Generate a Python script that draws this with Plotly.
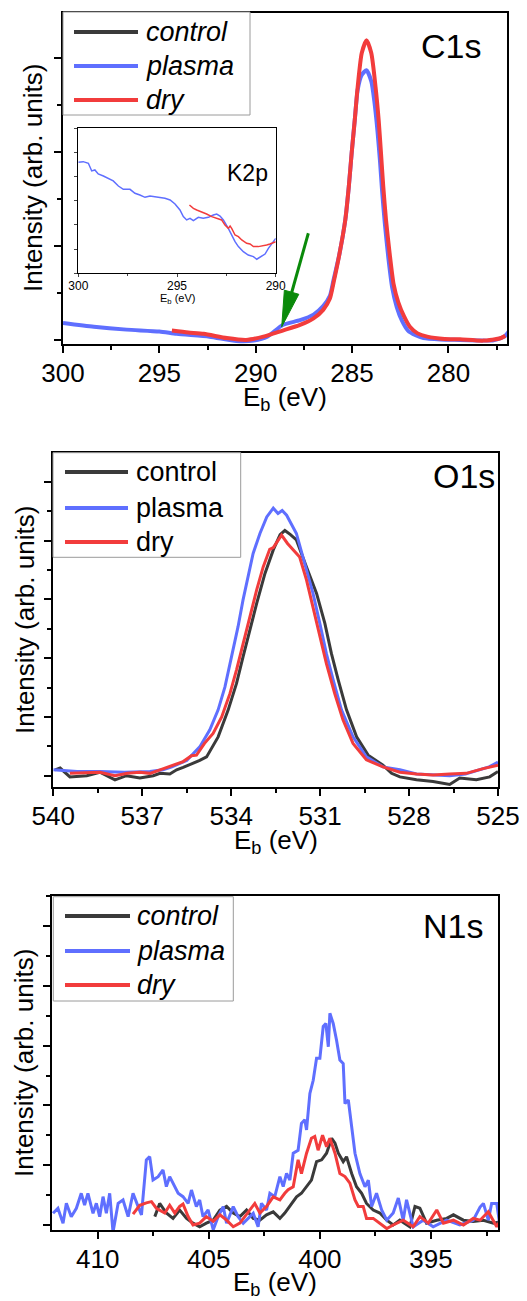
import plotly.graph_objects as go

PAGE_OFF = 8  # default body margin of the page
W, H = 527 - PAGE_OFF, 1301 - PAGE_OFF
FONT = "Liberation Sans, Arial, Helvetica, sans-serif"
C_CTRL = "#3a3a3a"
C_PLASMA = "#5f6fff"
C_DRY = "#f23c3c"

# ---------------- C1s (main) ----------------
c1s_plasma_e = [300.0, 298.4, 296.7, 295.0, 294.1, 292.4, 291.0, 290.1, 289.4, 288.6, 287.7, 287.0, 286.5, 286.15,
                285.97, 285.65, 285.35, 285.17, 285.02, 284.86, 284.71, 284.5, 284.25, 284.0, 283.85, 283.68, 283.55,
                283.44, 283.3, 283.12, 282.92, 282.68, 282.4, 282.1, 281.7, 281.3, 280.4, 279.4, 278.5, 277.7, 277.1, 276.8]
c1s_plasma_i = [0.18, 0.14, 0.11, 0.09, 0.065, 0.035, -0.01, -0.005, 0.035, 0.16, 0.21, 0.27, 0.36, 0.47,
                0.63, 0.92, 1.28, 1.63, 1.99, 2.34, 2.66, 2.82, 2.87, 2.75, 2.55, 2.22, 1.9,
                1.58, 1.24, 0.88, 0.56, 0.35, 0.2, 0.1, 0.05, 0.02, 0.005, 0.0, -0.005, -0.005, 0.035, 0.11]
c1s_dry_e = [294.35, 293.5, 292.7, 291.5, 290.5, 289.6, 288.6, 287.7, 287.0, 286.5, 286.15, 285.95, 285.65, 285.35,
             285.17, 285.02, 284.86, 284.71, 284.5, 284.25, 284.0, 283.78, 283.62, 283.5, 283.38, 283.24, 283.05,
             282.85, 282.6, 282.3, 282.0, 281.6, 281.1, 280.2, 279.4, 278.2, 277.3, 277.05]
c1s_dry_i = [0.10, 0.08, 0.065, 0.02, 0.0, 0.035, 0.10, 0.16, 0.23, 0.32, 0.44, 0.62, 0.92, 1.28,
             1.63, 1.99, 2.34, 2.69, 3.05, 3.19, 3.05, 2.69, 2.34, 1.99, 1.63, 1.28, 0.92,
             0.6, 0.4, 0.25, 0.14, 0.07, 0.035, 0.01, 0.007, -0.007, 0.018, 0.045]

# ---------------- K2p (inset) ----------------
k2p_plasma_e = [300.0, 299.75, 299.49, 299.32, 299.16, 298.99, 298.73, 298.48, 298.23, 297.97, 297.72, 297.38, 297.13,
                296.88, 296.62, 296.37, 296.11, 295.86, 295.61, 295.35, 295.1, 294.85, 294.68, 294.51, 294.34, 294.17,
                293.92, 293.67, 293.41, 293.16, 292.99, 292.82, 292.65, 292.4, 292.23, 292.06, 291.89, 291.64, 291.39,
                291.13, 290.96, 290.71, 290.54, 290.37, 290.2, 290.0]
k2p_plasma_i = [7.66, 7.70, 7.59, 7.06, 7.13, 6.85, 6.71, 6.55, 6.37, 6.02, 5.79, 5.79, 5.52,
                5.40, 5.24, 5.33, 5.29, 5.24, 5.17, 5.06, 4.78, 4.37, 3.91, 3.68, 3.79, 3.63,
                3.86, 3.79, 3.86, 4.02, 4.09, 3.95, 3.68, 3.10, 2.64, 2.18, 1.84, 1.49, 1.26,
                1.15, 0.97, 1.15, 1.33, 1.72, 2.07, 2.41]
k2p_dry_e = [294.37, 294.17, 294.0, 293.75, 293.5, 293.24, 292.99, 292.74, 292.57, 292.4, 292.31, 292.23, 292.06,
             291.89, 291.72, 291.47, 291.3, 291.13, 290.88, 290.62, 290.46, 290.29, 290.0]
k2p_dry_i = [4.71, 4.48, 4.37, 4.25, 4.09, 3.91, 3.79, 3.68, 3.33, 3.10, 3.26, 3.10, 2.64,
             2.53, 2.30, 2.07, 2.02, 1.84, 1.84, 1.89, 1.95, 2.02, 2.18]

# ---------------- O1s ----------------
o1s_ctrl_e = [539.94, 539.77, 539.44, 538.87, 538.43, 537.92, 537.53, 537.08, 536.63, 536.4, 536.07, 535.84, 535.62,
              535.28, 535.06, 534.83, 534.44, 534.1, 533.82, 533.6, 533.37, 533.14, 532.86, 532.58, 532.35, 532.19,
              532.0, 531.8, 531.46, 531.12, 530.84, 530.62, 530.39, 530.11, 529.77, 529.38, 528.88, 528.59, 528.31,
              527.75, 527.19, 526.63, 526.29, 525.73, 525.28, 525.0]
o1s_ctrl_i = [0.1, 0.13, -0.02, 0.0, 0.06, -0.07, 0.0, -0.04, 0.0, 0.04, 0.03, 0.1, 0.14,
              0.21, 0.26, 0.32, 0.66, 1.12, 1.57, 2.02, 2.48, 2.93, 3.44, 3.84, 4.1, 4.17,
              4.1, 4.01, 3.55, 3.1, 2.59, 2.08, 1.63, 1.12, 0.66, 0.35, 0.18, 0.04, -0.02,
              -0.07, -0.1, -0.15, -0.04, -0.07, -0.02, 0.07]
o1s_plasma_e = [540.0, 539.2, 538.43, 537.6, 536.74, 536.3, 536.0, 535.5, 535.06, 534.72, 534.44, 534.21, 533.99,
                533.77, 533.6, 533.43, 533.26, 533.03, 532.8, 532.58, 532.42, 532.28, 532.13, 531.8, 531.52, 531.24,
                531.01, 530.79, 530.56, 530.28, 529.89, 529.44, 528.88, 528.31, 527.75, 527.2, 526.63, 526.1, 525.73,
                525.3, 525.0]
o1s_plasma_i = [0.1, 0.07, 0.07, 0.06, 0.07, 0.1, 0.15, 0.26, 0.49, 0.78, 1.12, 1.51, 2.02,
                2.53, 2.99, 3.38, 3.78, 4.12, 4.4, 4.55, 4.46, 4.51, 4.43, 4.12, 3.61, 3.1,
                2.59, 2.08, 1.63, 1.12, 0.66, 0.32, 0.15, 0.1, 0.03, 0.02, 0.0, 0.03, 0.08,
                0.15, 0.23]
o1s_dry_e = [539.44, 539.0, 538.43, 537.92, 537.5, 537.08, 536.74, 536.4, 536.18, 535.9, 535.62, 535.34, 535.17,
             534.9, 534.61, 534.32, 534.04, 533.82, 533.6, 533.37, 533.14, 532.92, 532.7, 532.58, 532.45, 532.3,
             532.1, 531.9, 531.69, 531.46, 531.24, 531.01, 530.79, 530.51, 530.23, 529.89, 529.44, 528.88, 528.31,
             527.75, 527.19, 526.63, 526.07, 525.5, 525.0]
o1s_dry_i = [0.04, 0.05, 0.06, 0.0, 0.04, 0.06, 0.04, 0.1, 0.14, 0.2, 0.24, 0.34, 0.35,
             0.55, 0.72, 1.0, 1.4, 1.8, 2.25, 2.7, 3.16, 3.55, 3.85, 3.88, 3.98, 4.09,
             3.95, 3.84, 3.72, 3.33, 2.87, 2.42, 1.91, 1.40, 0.95, 0.55, 0.27, 0.15, 0.06,
             0.03, 0.01, 0.03, 0.04, 0.12, 0.18]

# ---------------- N1s ----------------
n1s_ctrl_e = [407.43, 407.21, 406.91, 406.61, 406.31, 406.0, 405.71, 405.41, 405.11, 404.8, 404.5, 404.2, 403.9,
              403.6, 403.3, 403.0, 402.7, 402.4, 402.1, 401.8, 401.58, 401.35, 401.05, 400.83, 400.6, 400.38,
              400.15, 399.92, 399.7, 399.47, 399.32, 399.17, 398.95, 398.8, 398.57, 398.35, 398.12, 397.9, 397.6,
              397.3, 396.99, 396.7, 396.4, 395.95, 395.72, 395.5, 395.2, 394.74, 394.29, 393.99, 393.54, 393.1,
              392.64, 392.19, 391.9]
n1s_ctrl_i = [0.14, 0.36, 0.2, 0.11, 0.25, 0.11, 0.03, -0.03, 0.03, 0.08, 0.25, 0.31, 0.2,
              0.14, 0.25, 0.11, 0.08, 0.17, 0.22, 0.11, 0.2, 0.31, 0.47, 0.53, 0.64, 0.75,
              1.06, 1.09, 1.2, 1.45, 1.37, 1.2, 1.06, 1.14, 0.86, 0.64, 0.53, 0.36, 0.25,
              0.2, 0.08, 0.0, 0.08, -0.03, 0.31, 0.28, 0.03, 0.08, 0.11, 0.17, 0.08, 0.06,
              0.08, 0.03, 0.05]
n1s_plasma_e = [412.01, 411.79, 411.56, 411.41, 411.19, 410.96, 410.74, 410.59, 410.44, 410.21, 410.06, 409.91,
                409.76, 409.61, 409.46, 409.31, 409.08, 408.86, 408.63, 408.41, 408.18, 408.03, 407.81, 407.66,
                407.51, 407.28, 407.06, 406.91, 406.76, 406.61, 406.38, 406.16, 405.93, 405.78, 405.56, 405.41,
                405.26, 405.03, 404.80, 404.58, 404.35, 404.20, 403.90, 403.68, 403.45, 403.00, 402.78, 402.63,
                402.40, 402.25, 402.03, 401.80, 401.65, 401.5, 401.35, 401.2, 400.98, 400.83, 400.68, 400.6,
                400.45, 400.3, 400.15, 400.0, 399.85, 399.73, 399.62, 399.55, 399.4, 399.25, 399.1, 398.95,
                398.87, 398.72, 398.57, 398.42, 398.2, 397.97, 397.82, 397.67, 397.45, 397.22, 396.99, 396.7,
                396.47, 396.25, 396.1, 395.8, 395.35, 394.9, 394.3, 393.7, 393.1, 392.79, 392.64, 392.42,
                392.27, 392.04, 391.9]
n1s_plasma_i = [0.195, 0.279, 0.028, 0.362, 0.139, 0.279, 0.530, 0.334, 0.530, 0.195, 0.362, 0.139,
                0.474, 0.195, 0.530, -0.12, 0.362, 0.418, 0.139, 0.530, 0.307, 0.167, 1.087, 1.143,
                0.753, 0.808, 0.920, 0.641, 0.808, 0.697, 0.530, 0.474, 0.362, 0.585, 0.307, 0.418,
                0.139, 0.251, -0.08, 0.139, 0.307, 0.028, 0.307, 0.139, 0.028, 0.195, -0.03, 0.362,
                0.251, 0.530, 0.474, 0.808, 0.641, 0.864, 0.75, 1.2, 1.25, 1.70, 1.76, 1.59,
                2.2, 2.42, 2.79, 2.79, 3.32, 3.37, 2.98, 3.54, 3.37, 3.09, 2.76, 2.70,
                2.03, 2.09, 1.64, 1.20, 0.86, 0.64, 0.75, 0.31, 0.53, 0.25, 0.08, 0.2,
                0.45, 0.08, 0.42, -0.03, 0.08, -0.03, 0.08, 0.0, 0.08, 0.30, 0.36, 0.08,
                0.36, 0.36, 0.0]
n1s_dry_e = [408.41, 408.11, 407.81, 407.58, 407.36, 406.98, 406.76, 406.53, 406.31, 406.16, 405.93, 405.71,
             405.41, 405.11, 404.8, 404.5, 404.2, 403.9, 403.6, 403.23, 402.93, 402.7, 402.4, 402.1, 401.8,
             401.58, 401.43, 401.2, 400.98, 400.83, 400.6, 400.38, 400.23, 400.08, 399.88, 399.7, 399.55,
             399.32, 399.1, 398.87, 398.65, 398.42, 398.27, 398.05, 397.9, 397.6, 397.3, 396.99, 396.7,
             396.25, 395.8, 395.5, 395.12, 394.74, 394.44, 393.99, 393.54, 393.1, 392.79, 392.42, 392.04, 391.9]
n1s_dry_i = [0.18, 0.33, 0.37, 0.39, 0.28, 0.2, 0.33, 0.2, 0.31, 0.35, 0.14, 0.0,
             0.03, 0.14, 0.06, 0.17, 0.08, -0.03, 0.03, 0.22, 0.36, 0.2, 0.31, 0.47, 0.42,
             0.53, 0.59, 0.64, 1.09, 0.86, 1.2, 1.45, 1.48, 1.25, 1.5, 1.31, 1.45,
             1.2, 0.86, 0.81, 0.70, 0.42, 0.31, 0.31, 0.11, 0.11, 0.03, -0.06, 0.0,
             0.08, -0.03, 0.14, 0.03, 0.25, 0.03, 0.08, 0.0, 0.11, 0.08, 0.22, -0.03, 0.06]

series_names = ["control", "plasma", "dry"]
series_colors = [C_CTRL, C_PLASMA, C_DRY]

# x tick values per panel
c1s_ticks = [300, 295, 290, 285, 280]
o1s_ticks = [540, 537, 534, 531, 528, 525]
n1s_ticks = [410, 405, 400, 395]
k2p_ticks = [300, 295, 290]


def fx(x):
    return (x - PAGE_OFF) / W


def fy(y):
    return 1 - (y - PAGE_OFF) / H


fig = go.Figure()


def add(xs, ys, ax, color, width, spline=False):
    line = dict(color=color, width=width)
    if spline:
        line.update(shape="spline", smoothing=0.6)
    fig.add_trace(go.Scatter(x=xs, y=ys, mode="lines", line=line, xaxis="x" + ax, yaxis="y" + ax,
                             showlegend=False, hoverinfo="skip"))


add(c1s_plasma_e, c1s_plasma_i, "", C_PLASMA, 4, True)
add(c1s_dry_e, c1s_dry_i, "", C_DRY, 4, True)
add(o1s_ctrl_e, o1s_ctrl_i, "2", C_CTRL, 3)
add(o1s_plasma_e, o1s_plasma_i, "2", C_PLASMA, 3)
add(o1s_dry_e, o1s_dry_i, "2", C_DRY, 3)
add(n1s_ctrl_e, n1s_ctrl_i, "3", C_CTRL, 3)
add(n1s_plasma_e, n1s_plasma_i, "3", C_PLASMA, 3)
add(n1s_dry_e, n1s_dry_i, "3", C_DRY, 3)
add(k2p_plasma_e, k2p_plasma_i, "4", C_PLASMA, 1.5)
add(k2p_dry_e, k2p_dry_i, "4", C_DRY, 1.5)

axis_base = dict(showline=True, linecolor="black", linewidth=2, mirror=True, ticks="outside",
                 ticklen=7, tickwidth=1.5, tickcolor="black", showgrid=False, zeroline=False,
                 automargin=False, tickfont=dict(family=FONT, size=26, color="black"))


def xax(dom, rng, tickvals, minor_dtick, anchor):
    d = dict(axis_base)
    d.update(domain=[fx(dom[0]), fx(dom[1])], range=rng, tickmode="array", tickvals=tickvals,
             ticktext=[str(t) for t in tickvals], anchor=anchor, ticklabelstandoff=-2,
             minor=dict(ticks="outside", ticklen=4, tickwidth=1.5, tickcolor="black", dtick=minor_dtick,
                        tick0=tickvals[0]))
    return d


def yax(dom, rng, anchor):
    d = dict(axis_base)
    d.update(domain=[fy(dom[1]), fy(dom[0])], range=rng, showticklabels=False, tick0=0, dtick=1,
             anchor=anchor,
             minor=dict(ticks="outside", ticklen=4, tickwidth=1.5, tickcolor="black", dtick=0.5))
    return d


fig.update_layout(
    template="none",
    width=W, height=H, margin=dict(l=0, r=0, t=0, b=0, pad=0, autoexpand=False),
    paper_bgcolor="white", plot_bgcolor="white", showlegend=False,
    font=dict(family=FONT, color="black"),
    xaxis=xax((63, 507), [300, 276.96], c1s_ticks, 2.5, "y"),
    yaxis=yax((12.7, 344), [-0.043, 3.482], "x"),
    xaxis2=xax((53.3, 498), [540, 525], o1s_ticks, 1.5, "y2"),
    yaxis2=yax((453, 786.7), [-0.187, 5.488], "x2"),
    xaxis3=xax((51.7, 498.3), [412.07, 391.97], n1s_ticks, 2.5, "y3"),
    yaxis3=yax((896, 1230), [-0.084, 5.502], "x3"),
)

# inset axes
fig.update_layout(
    xaxis4=dict(domain=[fx(78.3), fx(275.7)], range=[300, 290], anchor="y4", showline=True, mirror=True,
                linecolor="black", linewidth=1, ticks="outside", ticklen=3, tickwidth=1, showgrid=False,
                zeroline=False, automargin=False, tickmode="array", tickvals=k2p_ticks,
                ticktext=[str(t) for t in k2p_ticks], ticklabelstandoff=-2,
                tickfont=dict(family=FONT, size=12, color="black"),
                minor=dict(ticks="outside", ticklen=2, tickwidth=1, dtick=2.5, tick0=300)),
    yaxis4=dict(domain=[fy(273.3), fy(128.3)], range=[0, 10], anchor="x4", showline=True, mirror=True,
                linecolor="black", linewidth=1, ticks="outside", ticklen=3, tickwidth=1, showgrid=False,
                zeroline=False, automargin=False, showticklabels=False, tick0=0, dtick=5 / 3),
)

ann = []


def text(x, y, s, size, italic=False, anchor="center", angle=0):
    ann.append(dict(x=fx(x), y=fy(y), xref="paper", yref="paper", text=s, showarrow=False,
                    xanchor=anchor, yanchor="middle", textangle=angle,
                    font=dict(family=FONT, size=size, color="black",
                              style="italic" if italic else "normal")))


# axis titles
text(285, 399, "E<sub>b</sub> (eV)", 26)
text(276, 841, "E<sub>b</sub> (eV)", 26)
text(275, 1283, "E<sub>b</sub> (eV)", 26)
text(33, 178, "Intensity (arb. units)", 26, angle=-90)
text(25, 620, "Intensity (arb. units)", 26, angle=-90)
text(24, 1063, "Intensity (arb. units)", 26, angle=-90)
text(177, 299, "E<sub>b</sub> (eV)", 11)
# panel labels
text(451, 46, "C1s", 34)
text(464, 476, "O1s", 34)
text(453, 926, "N1s", 34)
text(247, 173, "K2p", 23)

shapes = []


def legend(box, lx0, lx1, tx, rows, italic):
    shapes.append(dict(type="rect", xref="paper", yref="paper", x0=fx(box[0]), x1=fx(box[2]),
                       y0=fy(box[3]), y1=fy(box[1]), line=dict(color="#9a9a9a", width=1),
                       fillcolor="white", layer="above"))
    for name, col, ry in zip(series_names, series_colors, rows):
        shapes.append(dict(type="line", xref="paper", yref="paper", x0=fx(lx0), x1=fx(lx1),
                           y0=fy(ry), y1=fy(ry), line=dict(color=col, width=4), layer="above"))
        text(tx, ry, name, 27, italic=italic, anchor="left")


legend((63, 12, 250, 115), 74, 138, 144, (32, 66, 100), True)
legend((53, 452.7, 240.7, 557.3), 65, 128, 134, (472, 508, 542), False)
legend((53.3, 896.7, 233.3, 1001), 65, 130, 135, (916, 951, 985), True)

# green arrow pointing at the C1s shoulder
shapes.append(dict(type="line", xref="x", yref="y", x0=287.27, y0=1.135, x1=288.14, y1=0.50,
                   line=dict(color="#0a8a0a", width=3)))
shapes.append(dict(type="path", xref="x", yref="y",
                   path="M 288.65,0.14 L 287.764,0.486 L 288.513,0.530 Z",
                   fillcolor="#0a8a0a", line=dict(color="#0a8a0a", width=1)))

fig.update_layout(annotations=ann, shapes=shapes)
fig.write_html("out.html")
